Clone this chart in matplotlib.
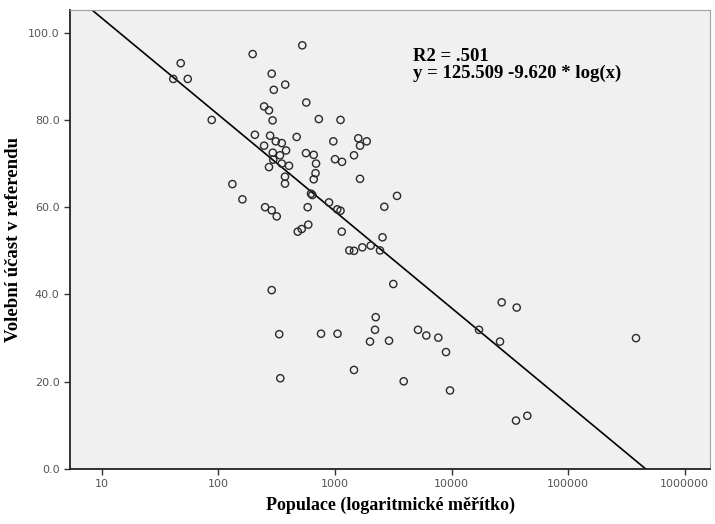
import numpy as np
import matplotlib
matplotlib.use("Agg")
import matplotlib.pyplot as plt
from matplotlib.ticker import FixedLocator, FixedFormatter

# Data: population (log scale) vs. referendum turnout (%)
populace = [47.6, 41.1, 54.7, 87.8, 197, 525, 287, 375, 299, 568,
            247, 272, 292, 728, 1117, 206, 278, 470, 311, 350,
            247, 381, 293, 338, 565, 658, 296, 350, 272, 404,
            689, 373, 682, 658, 373, 132, 161, 624, 584, 252,
            287, 317, 969, 1587, 1874, 1642, 1458, 1002, 1151, 1642,
            890, 1048, 1117, 2653, 3409, 480, 519, 591, 1144, 2560,
            1329, 1458, 1718, 2028, 2437, 287, 3169, 333, 760, 1053,
            2239, 2208, 2000, 2911, 5160, 6080, 7705, 8970, 340, 1458,
            3890, 9707, 17210, 26060, 26950, 36240, 35740, 44680, 382300, 640]
ucast = [93.0, 89.4, 89.4, 80.0, 95.1, 97.1, 90.6, 88.1, 86.9, 84.0,
         83.1, 82.2, 79.9, 80.2, 80.0, 76.6, 76.4, 76.1, 75.1, 74.7,
         74.1, 73.0, 72.5, 71.9, 72.4, 72.0, 70.9, 70.0, 69.2, 69.5,
         70.0, 67.0, 67.8, 66.4, 65.4, 65.3, 61.8, 63.1, 60.0, 60.0,
         59.3, 57.9, 75.1, 75.8, 75.1, 74.1, 71.9, 71.0, 70.4, 66.5,
         61.1, 59.5, 59.2, 60.1, 62.6, 54.4, 55.0, 56.0, 54.4, 53.1,
         50.1, 50.0, 50.8, 51.2, 50.1, 41.0, 42.4, 30.9, 31.0, 31.0,
         34.8, 31.9, 29.2, 29.4, 31.9, 30.6, 30.1, 26.8, 20.8, 22.7,
         20.1, 18.0, 31.9, 29.2, 38.2, 37.0, 11.1, 12.2, 30.0, 62.8]

a_coef = 125.509
b_coef = -9.620
r2 = 0.501

x_ticks = [10, 100, 1000, 10000, 100000, 1000000]
x_tick_labels = ["10", "100", "1000", "10000", "100000", "1000000"]
y_ticks = [0, 20, 40, 60, 80, 100]
y_tick_labels = ["0.0", "20.0", "40.0", "60.0", "80.0", "100.0"]

fig = plt.figure(figsize=(7.15, 5.24), dpi=100)
ax = fig.add_axes([70/715, 55/524, 640/715, 459/524])
ax.set_facecolor("#f0f0f0")

ax.set_xscale("log")
ax.set_xlim(10**0.728, 10**6.217)
ax.set_ylim(0, 105.2)

ax.scatter(populace, ucast, s=27, facecolors="none", edgecolors="#2a2a2a",
           linewidths=1.0, zorder=3)

xs = np.logspace(0.7, 6.3, 200)
ax.plot(xs, a_coef + b_coef * np.log(xs), color="black", lw=1.2, zorder=2)

ax.xaxis.set_major_locator(FixedLocator(x_ticks))
ax.xaxis.set_major_formatter(FixedFormatter(x_tick_labels))
ax.xaxis.set_minor_locator(FixedLocator([]))
ax.set_yticks(y_ticks)
ax.set_yticklabels(y_tick_labels)
ax.tick_params(axis="both", direction="out", length=4, width=1.0,
               labelsize=8, labelcolor="#555555", color="#333333")

for s in ["left", "bottom"]:
    ax.spines[s].set_color("#222222")
    ax.spines[s].set_linewidth(1.3)
for s in ["top", "right"]:
    ax.spines[s].set_color("#a0a0a0")
    ax.spines[s].set_linewidth(0.8)

serif = ["Liberation Serif", "DejaVu Serif"]
ax.set_xlabel("Populace (logaritmické měřítko)", fontsize=13,
              fontweight="bold", family=serif, labelpad=5)
ax.set_ylabel("Volební účast v referendu", fontsize=13.5,
              fontweight="bold", family=serif, labelpad=4)

ax.text(0.536, 0.918, "R2 = .%03d\ny = %.3f %.3f * log(x)" % (round(r2 * 1000), a_coef, b_coef),
        transform=ax.transAxes, ha="left", va="top", fontsize=13.5,
        fontweight="bold", family=serif, linespacing=1.0)

fig.savefig("out.png", dpi=100, facecolor="white")
